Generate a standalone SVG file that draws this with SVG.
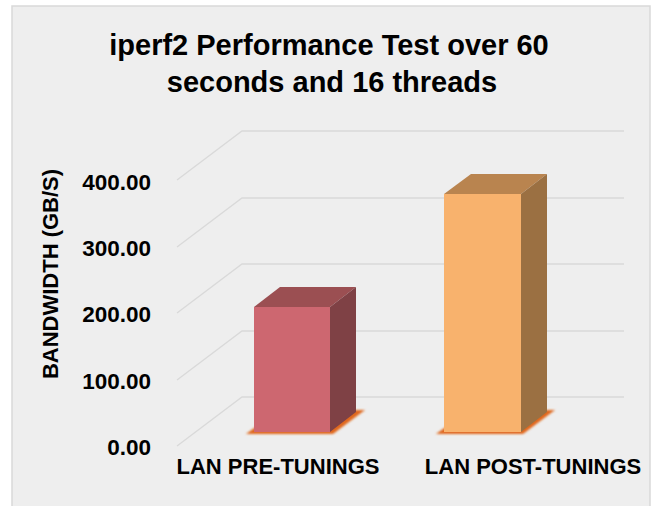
<svg xmlns="http://www.w3.org/2000/svg" width="652" height="506" viewBox="0 0 652 506">
<style>
.t{font-family:"Liberation Sans",Arial,Helvetica,sans-serif;font-weight:bold;fill:#000}
.grid{stroke:#d9d9d9;stroke-width:1.3;fill:none}
.title{font-size:29px;text-anchor:middle}
.ylab{font-size:22.5px;text-anchor:end}
.cat{font-size:22px;text-anchor:middle}
</style>
<defs>
<filter id="blur" x="-20%" y="-50%" width="140%" height="200%"><feGaussianBlur stdDeviation="1.2"/></filter>
</defs>
<rect x="0" y="0" width="652" height="506" fill="#ffffff"/>
<rect x="12" y="6" width="638" height="510" fill="#eeeeee" stroke="#d9d9d9" stroke-width="1.5"/>
<g id="title">
<text class="t title" x="329" y="55">iperf2 Performance Test over 60</text>
<text class="t title" x="332" y="92">seconds and 16 threads</text>
</g>
<g id="gridlines">
<path class="grid" d="M177,180 L242,131 L624,131 M177,247 L242,198 L624,198 M177,313 L242,264 L624,264 M177,380 L242,331 L624,331 M177,446 L242,397 L624,397"/>
</g>
<g id="y-axis">
<text class="t" font-size="22" transform="translate(58,274) rotate(-90)" text-anchor="middle">BANDWIDTH (GB/S)</text>
<text class="t ylab" x="151" y="190">400.00</text>
<text class="t ylab" x="151" y="256">300.00</text>
<text class="t ylab" x="151" y="322">200.00</text>
<text class="t ylab" x="151" y="389">100.00</text>
<text class="t ylab" x="151" y="455">0.00</text>
</g>
<g id="bar-pre">
<polygon points="246,434 333,434 365,410 279,410" fill="#e0681f" filter="url(#blur)"/>
<polygon points="254,307 330,307 356,287 280,287" fill="#9b4f52"/>
<polygon points="330,307 356,287 356,412 330,432" fill="#7f4145"/>
<rect x="254" y="307" width="76" height="125" fill="#cd6770"/>
</g>
<g id="bar-post">
<polygon points="436,434 523,434 555,410 469,410" fill="#e0681f" filter="url(#blur)"/>
<polygon points="444,194 521,194 547,174 471,174" fill="#b9844f"/>
<polygon points="521,194 547,174 547,412 521,432" fill="#9b7042"/>
<rect x="444" y="194" width="77" height="238" fill="#f8b26d"/>
</g>
<g id="x-axis">
<text class="t cat" x="278" y="474">LAN PRE-TUNINGS</text>
<text class="t cat" x="533" y="474">LAN POST-TUNINGS</text>
</g>
</svg>
